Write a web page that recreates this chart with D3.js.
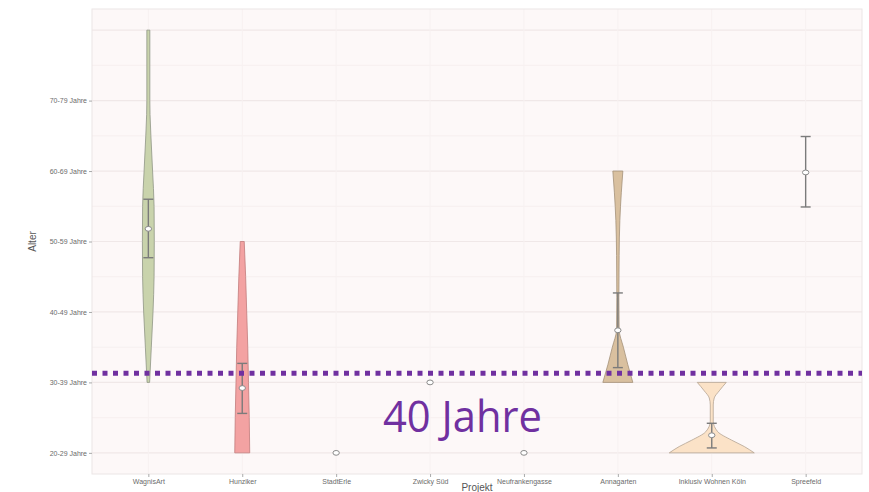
<!DOCTYPE html>
<html>
<head>
<meta charset="utf-8">
<script src="https://cdn.jsdelivr.net/npm/d3@7"></script>
<style>
    body { margin: 0; background: #fff; }
    svg { display: block; }
    .tick text { font-family: 'Liberation Sans', Arial, sans-serif; fill: #6b6b6b; }
</style>
</head>
<body>
<div class="chart-container"></div>
<script>
// Daten
const projekte = ['WagnisArt', 'Hunziker', 'StadtErle', 'Zwicky Süd', 'Neufrankengasse',
    'Annagarten', 'Inklusiv Wohnen Köln', 'Spreefeld'];
const altersklassen = ['20-29 Jahre', '30-39 Jahre', '40-49 Jahre', '50-59 Jahre', '60-69 Jahre', '70-79 Jahre'];
const farben = ['#c9d3ac', '#f3a2a2', '#e6e6e6', '#e6e6e6', '#e6e6e6', '#d9c09f', '#fbe2c7', '#e6e6e6'];
const rahmen = ['#8f9585', '#c27b7b', '#999', '#999', '#999', '#a39079', '#b4a392', '#999'];

// Dichteprofile der Violinen: [Altersstufe, relative Dichte]
const dichte = [
    [[2.0, 0.03], [2.5, 0.07], [3.0, 0.11], [3.5, 0.135], [4.0, 0.14], [4.5, 0.135], [5.0, 0.1], [5.5, 0.06], [5.8, 0.04], [6.0, 0.035], [7.0, 0.035]],
    [[1.0, 0.176], [1.5, 0.165], [2.0, 0.147], [2.5, 0.13], [3.0, 0.105], [3.5, 0.08], [4.0, 0.047]],
    [],
    [],
    [],
    [[2.0, 0.353], [2.25, 0.235], [2.5, 0.13], [2.75, 0.03], [3.2, 0.024], [3.8, 0.03], [4.3, 0.047], [4.7, 0.082], [5.0, 0.118]],
    [[1.0, 1.0], [1.09, 0.765], [1.18, 0.47], [1.3, 0.141], [1.45, 0.035], [1.68, 0.035], [1.78, 0.059], [1.88, 0.176], [2.0, 0.341]],
    []
];
// Mittelwert und Konfidenzintervall (in Altersstufen)
const mittel = [4.18, 1.92, 1.0, 2.0, 1.0, 2.74, 1.25, 4.98];
const untere = [3.77, 1.56, null, null, null, 2.21, 1.07, 4.49];
const obere = [4.60, 2.27, null, null, null, 3.27, 1.42, 5.49];

// Referenzlinie
const grenze = 2.13;
const grenzeText = '40 Jahre';

// SVG
const svg_width = 869;
const svg_height = 492;
const panel = { left: 92, right: 862, top: 9, bottom: 474 };

const svg = d3.select('.chart-container')
    .append('svg')
    .attr('width', svg_width).attr('height', svg_height);

// Skalen
const xScale = d3.scalePoint().domain(projekte)
    .range([panel.left, panel.right]).padding(0.6);
const yScale = d3.scaleLinear().domain([0.7, 7.3]).range([panel.bottom, panel.top]);
const wScale = d3.scaleLinear().domain([0, 1]).range([0, 42.5]);

// Hintergrund
svg.append('rect')
    .attr('x', panel.left).attr('y', panel.top)
    .attr('width', panel.right - panel.left).attr('height', panel.bottom - panel.top)
    .style('fill', '#fdf8f8');

// Gitterlinien
const grid = svg.append('g').attr('class', 'grid');
grid.selectAll('.minor').data(d3.range(1.5, 7, 1))
    .join('line').attr('class', 'minor')
    .attr('x1', panel.left).attr('x2', panel.right)
    .attr('y1', d => yScale(d)).attr('y2', d => yScale(d))
    .style('stroke', '#f5eeee').style('stroke-width', 0.8);
grid.selectAll('.major').data(d3.range(1, 8))
    .join('line').attr('class', 'major')
    .attr('x1', panel.left).attr('x2', panel.right)
    .attr('y1', d => yScale(d)).attr('y2', d => yScale(d))
    .style('stroke', '#f0e8e8').style('stroke-width', 1.2);
grid.selectAll('.vert').data(projekte)
    .join('line').attr('class', 'vert')
    .attr('x1', d => xScale(d)).attr('x2', d => xScale(d))
    .attr('y1', panel.top).attr('y2', panel.bottom)
    .style('stroke', '#f7f1f1').style('stroke-width', 1);

// Rahmen
svg.append('rect')
    .attr('x', panel.left).attr('y', panel.top)
    .attr('width', panel.right - panel.left).attr('height', panel.bottom - panel.top)
    .style('fill', 'none').style('stroke', '#ebe6e6').style('stroke-width', 1);

// Violinen
const violins = svg.append('g').attr('class', 'violins');
projekte.forEach((p, i) => {
    if (!dichte[i].length) return;
    const cx = xScale(p);
    const area = d3.area()
        .y(d => yScale(d[0]))
        .x0(d => cx - wScale(d[1]))
        .x1(d => cx + wScale(d[1]))
        .curve(d3.curveMonotoneY);
    violins.append('path')
        .datum(dichte[i])
        .attr('d', area)
        .style('fill', farben[i])
        .style('stroke', rahmen[i])
        .style('stroke-width', 0.8);
});

// Fehlerbalken
const bars = svg.append('g').attr('class', 'errorbars');
projekte.forEach((p, i) => {
    if (untere[i] === null) return;
    const cx = xScale(p);
    const g = bars.append('g').style('stroke', '#7b7b7b').style('stroke-width', 1.4);
    g.append('line').attr('x1', cx).attr('x2', cx)
        .attr('y1', yScale(untere[i])).attr('y2', yScale(obere[i]));
    [untere[i], obere[i]].forEach(v => {
        g.append('line').attr('x1', cx - 5).attr('x2', cx + 5)
            .attr('y1', yScale(v)).attr('y2', yScale(v));
    });
});

// Mittelwerte
svg.append('g').selectAll('ellipse').data(projekte)
    .join('ellipse')
    .attr('cx', d => xScale(d))
    .attr('cy', (d, i) => yScale(mittel[i]))
    .attr('rx', 3.2).attr('ry', 2.4)
    .style('fill', '#fff').style('stroke', '#8a8a8a').style('stroke-width', 1);

// Achsen
const yAxis = d3.axisLeft(yScale).tickValues(d3.range(1, 7))
    .tickFormat(d => altersklassen[d - 1]).tickSize(3).tickPadding(2);
const yAxisDraw = svg.append('g').attr('class', 'y axis')
    .attr('transform', `translate(${panel.left},0)`).call(yAxis);
const xAxis = d3.axisBottom(xScale).tickSize(3).tickPadding(2);
const xAxisDraw = svg.append('g').attr('class', 'x axis')
    .attr('transform', `translate(0,${panel.bottom})`).call(xAxis);
[yAxisDraw, xAxisDraw].forEach(a => {
    a.select('.domain').remove();
    a.selectAll('.tick line').style('stroke', '#aaa');
    a.selectAll('.tick text').style('font-size', '7px');
});

// Achsentitel
svg.append('text')
    .attr('transform', `translate(36,${(panel.top + panel.bottom) / 2}) rotate(-90)`)
    .attr('text-anchor', 'middle')
    .style('font-family', 'Liberation Sans, Arial, sans-serif')
    .style('font-size', '10px').style('fill', '#555')
    .text('Alter');
svg.append('text')
    .attr('x', (panel.left + panel.right) / 2).attr('y', 491)
    .attr('text-anchor', 'middle')
    .style('font-family', 'Liberation Sans, Arial, sans-serif')
    .style('font-size', '10px').style('fill', '#555')
    .text('Projekt');

// 40-Jahre-Linie
svg.append('line')
    .attr('x1', panel.left).attr('x2', panel.right)
    .attr('y1', yScale(grenze)).attr('y2', yScale(grenze))
    .style('stroke', '#7030a0').style('stroke-width', 5)
    .style('stroke-dasharray', '5,5.5');
svg.append('text')
    .attr('x', 383).attr('y', 432)
    .attr('textLength', 159).attr('lengthAdjust', 'spacingAndGlyphs')
    .style('font-family', 'Open Sans, sans-serif')
    .style('font-size', '44px').style('fill', '#7030a0')
    .text(grenzeText);
</script>
</body>
</html>
